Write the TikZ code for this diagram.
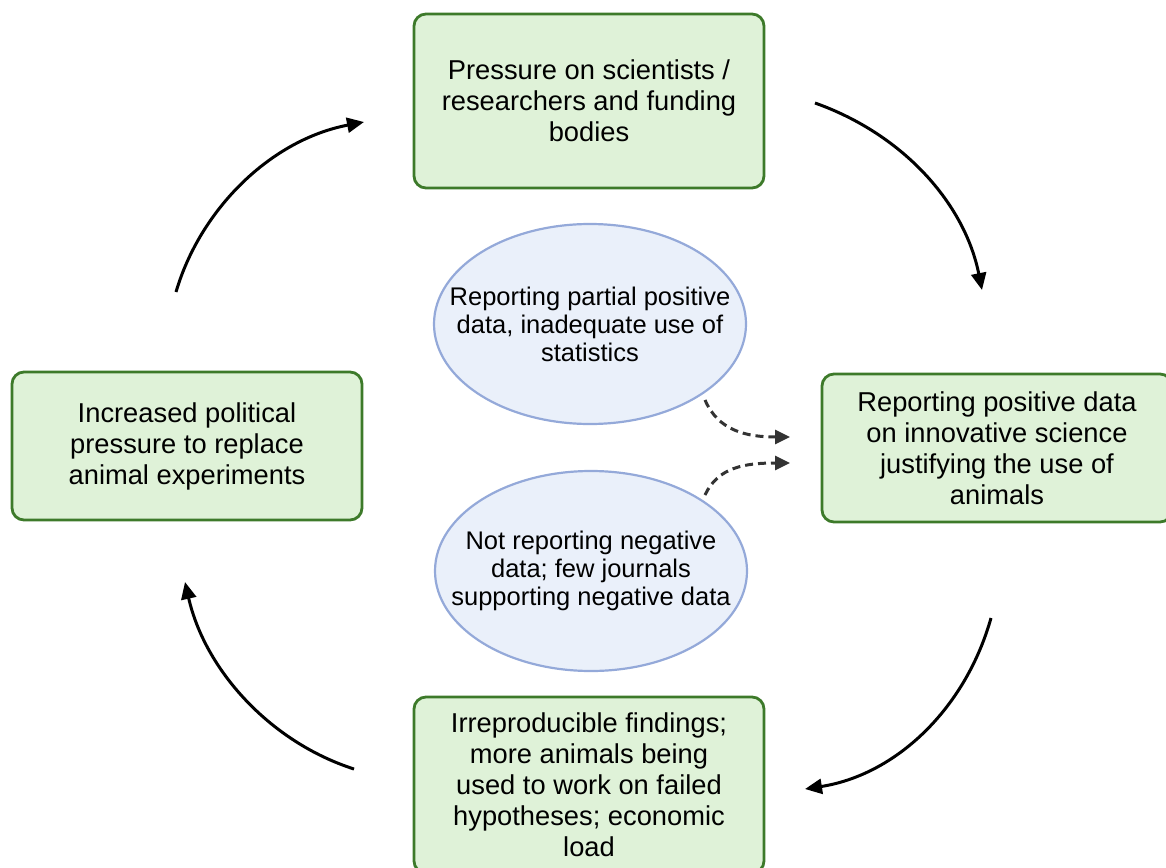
\documentclass[tikz,border=0pt]{standalone}
\usepackage{fontspec}
\setmainfont{Liberation Sans}
\usetikzlibrary{arrows.meta,calc,shapes.geometric}
\definecolor{boxfill}{HTML}{DFF2D8}
\definecolor{boxline}{HTML}{3D7A2A}
\definecolor{ellfill}{HTML}{EAF0FA}
\definecolor{ellline}{HTML}{94A9D9}
\tikzset{
  greenbox/.style={draw=boxline, fill=boxfill, line width=2.8pt, rounded corners=12pt,
    minimum width=350pt, align=center, inner sep=0pt,
    font=\fontsize{27.3}{31}\selectfont},
  blueell/.style={draw=ellline, fill=ellfill, line width=2.2pt, ellipse,
    minimum width=312pt, minimum height=200pt, inner sep=0pt},
  elltext/.style={align=center, font=\fontsize{25.5}{28}\selectfont},
  cyclearrow/.style={line width=3pt, -{Triangle[length=17pt,width=15pt]}},
  dasharrow/.style={line width=3pt, dash pattern=on 8pt off 5pt, draw=black!80,
    -{Triangle[length=15pt,width=14pt]}},
}
\begin{document}
\begin{tikzpicture}[x=1pt,y=-1pt]
\useasboundingbox (0,0) rectangle (1166,867);
\clip (0,0) rectangle (1166,867);
\node[greenbox, minimum height=174pt] (top) at (589,101)
  {Pressure on scientists /\\researchers and funding\\bodies};
\node[greenbox, minimum height=148pt] (left) at (187,446)
  {Increased political\\pressure to replace\\animal experiments};
\node[greenbox, minimum height=148pt] (right) at (997,448)
  {Reporting positive data\\on innovative science\\justifying the use of\\animals};
\node[greenbox, minimum height=176pt] (bottom) at (589,785)
  {Irreproducible findings;\\more animals being\\used to work on failed\\hypotheses; economic\\load};
\node[blueell, label={[elltext]center:Reporting partial positive\\data, inadequate use of\\statistics}] (e1) at (590,324) {};
\node[blueell, label={[elltext]center:Not reporting negative\\data; few journals\\supporting negative data}] (e2) at (591,571) {};

\coordinate (a1s) at (815,103);
\coordinate (a1e) at (982,290);
\coordinate (a2s) at (991,618);
\coordinate (a2e) at (805,789);
\coordinate (a3s) at (354,769);
\coordinate (a3e) at (185,582);
\coordinate (a4s) at (176,292);
\coordinate (a4e) at (364,122);
\coordinate (d1s) at (705,400);
\coordinate (d1e) at (790,437);
\coordinate (d2s) at (705,495);
\coordinate (d2e) at (790,463);

\draw[cyclearrow] (a1s) .. controls (905,135) and (965,205) .. (a1e);
\draw[cyclearrow] (a2s) .. controls (965,710) and (895,775) .. (a2e);
\draw[cyclearrow] (a3s) .. controls (270,742) and (205,670) .. (a3e);
\draw[cyclearrow] (a4s) .. controls (200,210) and (270,140) .. (a4e);

\draw[dasharrow] (d1s) .. controls (718,430) and (745,437) .. (d1e);
\draw[dasharrow] (d2s) .. controls (718,467) and (745,463) .. (d2e);
\end{tikzpicture}
\end{document}
